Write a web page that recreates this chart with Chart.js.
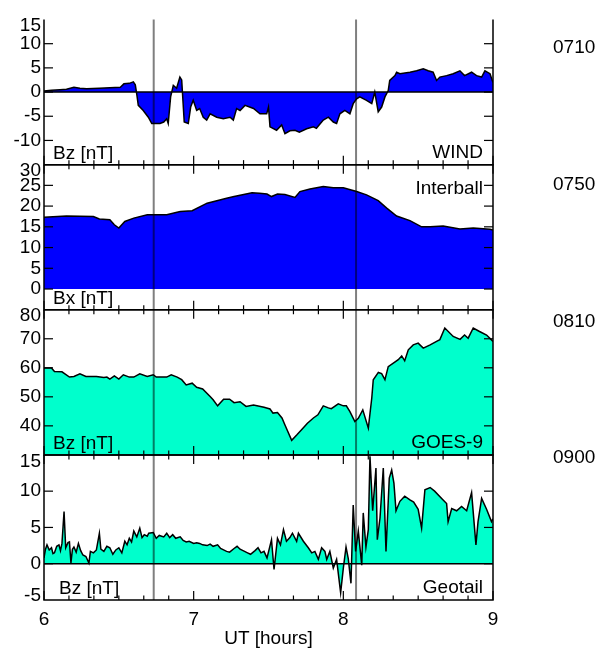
<!doctype html>
<html>
<head>
<meta charset="utf-8">
<title>Bz / Bx, WIND - Interball - GOES-9 - Geotail</title>
<script src="https://cdn.jsdelivr.net/npm/chart.js@4.4.1/dist/chart.umd.min.js"></script>
<style>
  html, body { margin: 0; padding: 0; background: #fff; }
  #wrap { position: relative; width: 597px; height: 648px; }
</style>
</head>
<body>
<div id="wrap"><canvas id="chart" width="597" height="648"></canvas></div>
<script>
// WIND Bz [nT]
var windT = [6.00, 6.05, 6.107, 6.15, 6.20, 6.24, 6.285, 6.37, 6.44, 6.51, 6.534, 6.57, 6.597, 6.61, 6.62, 6.63,
  6.663, 6.697, 6.72, 6.775, 6.80, 6.82, 6.83, 6.846, 6.864, 6.886, 6.908, 6.92, 6.937, 6.964, 6.98, 6.997,
  7.02, 7.04, 7.064, 7.087, 7.11, 7.154, 7.198, 7.243, 7.265, 7.287, 7.31, 7.343, 7.40, 7.443, 7.488, 7.50,
  7.51, 7.554, 7.588, 7.61, 7.643, 7.677, 7.706, 7.755, 7.80, 7.82, 7.866, 7.90, 7.933, 7.955, 7.977, 8.01,
  8.044, 8.066, 8.089, 8.11, 8.155, 8.19, 8.21, 8.233, 8.256, 8.278, 8.30, 8.31, 8.345, 8.356, 8.378, 8.445,
  8.49, 8.534, 8.567, 8.60, 8.623, 8.645, 8.69, 8.734, 8.779, 8.81, 8.857, 8.89, 8.924, 8.946, 8.98, 8.995, 9.00];
var windBz = [0.2, 0.4, 0.5, 0.6, 1.0, 0.8, 0.7, 0.8, 0.9, 1.0, 1.7, 1.8, 2.1, 1.5, -0.5, -2.75,
  -3.8, -5.2, -6.5, -6.5, -6.2, -5.5, -6.5, -1.0, 1.4, 0.8, 3.1, 2.5, -6.2, -6.5, -3.1, -1.7,
  -3.8, -3.4, -5.2, -5.8, -4.5, -5.2, -5.5, -5.2, -5.8, -3.4, -3.8, -2.75, -3.4, -4.5, -4.5, -3.1,
  -7.2, -7.9, -6.8, -8.6, -8.0, -7.9, -8.3, -7.6, -7.2, -7.5, -5.8, -5.2, -6.2, -6.5, -4.5, -3.8,
  -4.5, -2.4, -1.4, -1.0, -1.7, -2.4, 0.0, -4.1, -3.1, -1.0, 0.3, 2.4, 3.4, 4.1, 3.8, 4.1,
  4.4, 4.8, 4.4, 4.1, 2.4, 3.1, 3.4, 3.8, 4.4, 3.4, 4.1, 3.4, 3.1, 4.4, 3.8, 2.4, 2.0];

// Interball Bx [nT]
var intT = [6.00, 6.15, 6.33, 6.37, 6.44, 6.47, 6.50, 6.54, 6.60, 6.69, 6.82, 6.91, 6.99, 7.09, 7.22, 7.27,
  7.39, 7.44, 7.49, 7.52, 7.56, 7.61, 7.677, 7.71, 7.777, 7.866, 7.933, 8.00, 8.089, 8.155, 8.233, 8.29,
  8.356, 8.445, 8.523, 8.58, 8.667, 8.779, 8.868, 8.98, 9.00];
var intBx = [17.3, 17.6, 17.5, 16.9, 16.7, 15.5, 14.7, 16.3, 17.1, 17.9, 17.9, 18.7, 18.9, 20.7, 21.9, 22.3,
  23.2, 23.1, 22.9, 22.3, 22.9, 22.8, 22.1, 23.5, 24.1, 24.7, 24.4, 24.4, 23.5, 22.7, 21.3, 19.5,
  17.6, 16.5, 15.0, 15.0, 15.2, 14.5, 14.7, 14.4, 14.2];

// GOES-9 Bz [nT]
var goesT = [6.00, 6.05, 6.07, 6.12, 6.17, 6.20, 6.24, 6.28, 6.35, 6.40, 6.42, 6.44, 6.47, 6.50, 6.53, 6.57,
  6.60, 6.64, 6.69, 6.73, 6.75, 6.82, 6.85, 6.89, 6.92, 6.95, 6.99, 7.02, 7.06, 7.11, 7.13, 7.16,
  7.20, 7.24, 7.27, 7.31, 7.35, 7.40, 7.47, 7.51, 7.53, 7.56, 7.59, 7.61, 7.655, 7.69, 7.73, 7.76,
  7.80, 7.83, 7.866, 7.90, 7.92, 7.966, 8.00, 8.02, 8.044, 8.077, 8.10, 8.13, 8.167, 8.19, 8.20, 8.234,
  8.256, 8.278, 8.30, 8.334, 8.367, 8.39, 8.41, 8.434, 8.467, 8.50, 8.534, 8.58, 8.623, 8.645, 8.678, 8.734,
  8.78, 8.81, 8.834, 8.868, 8.91, 8.957, 9.00];
var goesBz = [59.9, 59.9, 58.7, 58.6, 56.8, 57.0, 57.9, 57.0, 57.0, 56.7, 56.8, 56.1, 57.2, 56.1, 57.6, 56.8,
  56.8, 57.9, 57.0, 57.6, 56.8, 56.8, 57.6, 56.8, 55.9, 54.1, 54.7, 53.3, 52.7, 50.1, 49.0, 46.9,
  49.2, 49.2, 48.0, 48.3, 46.7, 47.2, 46.4, 45.8, 44.4, 44.6, 42.7, 40.3, 35.0, 36.9, 39.2, 40.9,
  42.7, 43.8, 46.9, 46.2, 45.9, 47.6, 46.9, 46.9, 44.9, 41.5, 42.6, 45.5, 39.2, 49.6, 55.9, 58.4,
  58.0, 55.9, 60.4, 61.6, 62.8, 64.1, 62.4, 66.2, 67.9, 68.5, 66.8, 67.9, 69.1, 69.7, 73.7, 70.8,
  69.8, 71.3, 70.2, 73.7, 72.5, 71.3, 69.1];

// Geotail Bz [nT]
var geoT = [6.000, 6.010, 6.020, 6.035, 6.050, 6.060, 6.070, 6.085, 6.100, 6.110, 6.120, 6.134, 6.145, 6.160, 6.170, 6.180,
  6.190, 6.200, 6.215, 6.230, 6.245, 6.260, 6.280, 6.300, 6.310, 6.330, 6.350, 6.370, 6.380, 6.400, 6.420, 6.440,
  6.460, 6.480, 6.500, 6.520, 6.540, 6.555, 6.570, 6.585, 6.600, 6.620, 6.640, 6.655, 6.670, 6.690, 6.700, 6.730,
  6.750, 6.770, 6.800, 6.820, 6.840, 6.860, 6.880, 6.910, 6.930, 6.950, 6.970, 7.000, 7.020, 7.040, 7.060, 7.090,
  7.110, 7.130, 7.160, 7.180, 7.200, 7.220, 7.240, 7.270, 7.290, 7.310, 7.330, 7.360, 7.380, 7.410, 7.430, 7.450,
  7.470, 7.490, 7.520, 7.537, 7.560, 7.580, 7.600, 7.620, 7.643, 7.660, 7.688, 7.700, 7.733, 7.766, 7.789, 7.810,
  7.833, 7.855, 7.877, 7.889, 7.910, 7.933, 7.955, 7.982, 8.000, 8.018, 8.033, 8.051, 8.066, 8.082, 8.100, 8.123,
  8.133, 8.151, 8.167, 8.178, 8.196, 8.218, 8.227, 8.245, 8.267, 8.285, 8.307, 8.323, 8.338, 8.352, 8.378, 8.410,
  8.445, 8.470, 8.500, 8.523, 8.545, 8.580, 8.610, 8.657, 8.690, 8.700, 8.724, 8.757, 8.790, 8.824, 8.857, 8.886,
  8.900, 8.924, 8.957, 8.990, 9.000];
var geoBz = [0.8, 2.0, 2.6, 1.9, 2.2, 1.4, 1.5, 2.4, 2.6, 1.8, 2.8, 7.2, 2.2, 2.9, 3.0, 0.1,
  2.0, 2.3, 1.6, 2.8, 1.8, 1.2, 1.0, 0.1, 1.7, 1.5, 1.9, 4.2, 2.0, 1.7, 2.4, 2.2,
  1.3, 1.9, 2.2, 1.5, 3.1, 2.6, 3.5, 3.0, 4.5, 3.7, 4.9, 3.6, 4.0, 3.8, 4.2, 4.3,
  3.5, 3.9, 3.7, 4.2, 3.6, 4.0, 3.5, 3.7, 3.2, 3.0, 3.1, 2.8, 2.9, 2.8, 2.6, 2.5,
  2.7, 2.4, 2.6, 2.1, 1.9, 1.7, 1.6, 2.1, 2.4, 2.0, 1.8, 1.5, 1.3, 1.8, 2.2, 1.5,
  1.7, 0.8, 3.3, -0.8, 3.5, 2.6, 4.7, 3.1, 3.6, 4.2, 3.1, 4.2, 3.1, 2.2, 1.5, 1.7,
  0.6, 2.2, 1.7, 0.6, 1.7, -0.6, 0.6, -4.0, -0.6, 2.3, 0.7, -2.7, 8.1, 1.7, 4.5, -0.2,
  7.0, 2.3, 4.7, 14.8, 7.3, 13.2, 3.3, 6.3, 13.2, 1.7, 11.8, 12.9, 11.1, 7.3, 8.6, 9.3,
  8.8, 8.5, 7.5, 4.9, 10.2, 10.5, 10.0, 9.0, 8.3, 5.8, 7.6, 7.3, 7.9, 7.3, 9.8, 2.6,
  5.8, 9.0, 7.5, 5.8, 6.2];

// y tick labels per panel (bottom tick of stacked panels is left unlabeled)
var windTicks = [15, 10, 5, 0, -5, -10];
var intTicks = [30, 25, 20, 15, 10, 5, 0];
var goesTicks = [80, 70, 60, 50, 40];
var geoTicks = [15, 10, 5, 0, -5];

var markTimes = [6.733, 8.085];
var timeTags = ['0710', '0750', '0810', '0900'];

var FONT = '"Liberation Sans", Arial, Helvetica, sans-serif';
var BLUE = '#0000ff';
var TEAL = '#00ffcc';

function pts(t, v) {
  return t.map(function (x, i) { return { x: x, y: v[i] }; });
}

// panel descriptions, top to bottom
var panels = [
  { id: 'y1', min: -15, max: 15, step: 5, labels: windTicks, zero: true, top: false,
    left: 'Bz [nT]', leftX: 53, right: 'WIND', rightAtTop: false },
  { id: 'y2', min: -5, max: 30, step: 5, labels: intTicks, zero: false, top: true,
    left: 'Bx [nT]', leftX: 53, right: 'Interball', rightAtTop: true },
  { id: 'y3', min: 30, max: 80, step: 10, labels: goesTicks, zero: false, top: true,
    left: 'Bz [nT]', leftX: 53, right: 'GOES-9', rightAtTop: false },
  { id: 'y4', min: -5, max: 15, step: 5, labels: geoTicks, zero: true, top: true,
    left: 'Bz [nT]', leftX: 59, right: 'Geotail', rightAtTop: false }
];

function yScale(p) {
  return {
    type: 'linear', position: 'left', stack: 'panels', stackWeight: 1,
    min: p.min, max: p.max,
    ticks: { display: false, stepSize: p.step },
    grid: { display: false, drawTicks: false },
    border: { display: false },
    afterFit: function (s) { s.width = 44; }
  };
}

var scales = {
  x: {
    type: 'linear', position: 'bottom', min: 6, max: 9,
    ticks: { stepSize: 1, padding: 8, color: '#000', font: { family: FONT, size: 19 } },
    grid: { display: false, drawTicks: false },
    border: { display: false },
    title: { display: true, text: 'UT [hours]', color: '#000', padding: 0,
             font: { family: FONT, size: 19, lineHeight: 1.0 } },
    afterFit: function (s) { s.height = 48; }
  }
};
// stacked left axes are laid out last-defined on top
for (var k = panels.length - 1; k >= 0; k--) {
  scales[panels[k].id] = yScale(panels[k]);
}

function series(data, yid, fillMode, color) {
  return {
    data: data, yAxisID: yid, xAxisID: 'x',
    borderColor: '#000', borderWidth: 1.5, backgroundColor: color,
    fill: fillMode, pointRadius: 0, tension: 0
  };
}

var frame = {
  id: 'frame',
  afterDatasetsDraw: function (chart) {
    var ctx = chart.ctx, area = chart.chartArea, x = chart.scales.x;
    ctx.save();
    ctx.strokeStyle = '#000';
    ctx.fillStyle = '#000';
    ctx.lineWidth = 1.5;

    panels.forEach(function (p) {
      var ys = chart.scales[p.id];
      var top = ys.top, bot = ys.bottom;

      if (p.zero) {
        var z = ys.getPixelForValue(0);
        ctx.beginPath(); ctx.moveTo(area.left, z); ctx.lineTo(area.right, z); ctx.stroke();
      }

      // box
      ctx.beginPath();
      ctx.moveTo(area.left, top); ctx.lineTo(area.left, bot);
      ctx.lineTo(area.right, bot); ctx.lineTo(area.right, top);
      if (p.top) { ctx.lineTo(area.left, top); }
      ctx.stroke();

      // inward time ticks, 10 min minor, 1 h major
      ctx.lineWidth = 1.2;
      for (var m = 0; m <= 18; m++) {
        var px = x.getPixelForValue(6 + m / 6);
        var len = (m % 6 === 0) ? 9 : 4.5;
        ctx.beginPath(); ctx.moveTo(px, bot); ctx.lineTo(px, bot - len); ctx.stroke();
        if (p.top) { ctx.beginPath(); ctx.moveTo(px, top); ctx.lineTo(px, top + len); ctx.stroke(); }
      }

      // value ticks and labels
      ctx.font = '19px ' + FONT;
      ctx.textAlign = 'right';
      ctx.textBaseline = 'middle';
      ys.ticks.forEach(function (t) {
        var py = ys.getPixelForValue(t.value);
        if (t.value > p.min && t.value < p.max) {
          ctx.beginPath(); ctx.moveTo(area.left, py); ctx.lineTo(area.left + 9, py); ctx.stroke();
          ctx.beginPath(); ctx.moveTo(area.right, py); ctx.lineTo(area.right - 9, py); ctx.stroke();
        }
        if (p.labels.indexOf(t.value) >= 0) {
          var cy = Math.min(Math.max(py, top + 6.5), bot - 4);
          ctx.fillText(String(t.value), area.left - 3, cy);
        }
      });
      ctx.lineWidth = 1.5;

      // panel names
      ctx.textBaseline = 'alphabetic';
      ctx.textAlign = 'left';
      ctx.fillText(p.left, p.leftX, bot - 6);
      ctx.textAlign = 'right';
      ctx.fillText(p.right, area.right - 10, p.rightAtTop ? top + 29.5 : bot - 7);
    });

    // reference times across all panels
    ctx.strokeStyle = 'rgba(0,0,0,0.5)';
    ctx.lineWidth = 2;
    markTimes.forEach(function (t) {
      var px = x.getPixelForValue(t);
      ctx.beginPath(); ctx.moveTo(px, area.top); ctx.lineTo(px, area.bottom); ctx.stroke();
    });

    // time tags at the right
    ctx.fillStyle = '#000';
    ctx.textAlign = 'left';
    ctx.textBaseline = 'alphabetic';
    var tagY = [53.3, 190, 326.7, 463.3];
    timeTags.forEach(function (s, i) { ctx.fillText(s, 553, tagY[i]); });
    ctx.restore();
  }
};

new Chart(document.getElementById('chart').getContext('2d'), {
  type: 'line',
  data: {
    datasets: [
      series(pts(windT, windBz), 'y1', 'origin', BLUE),
      series(pts(intT, intBx), 'y2', 'origin', BLUE),
      series(pts(goesT, goesBz), 'y3', 'start', TEAL),
      series(pts(geoT, geoBz), 'y4', 'origin', TEAL)
    ]
  },
  options: {
    responsive: false,
    animation: false,
    events: [],
    layout: { padding: { top: 19.5, right: 104, bottom: 0, left: 0 } },
    plugins: { legend: { display: false }, tooltip: { enabled: false } },
    scales: scales
  },
  plugins: [frame]
});
</script>
</body>
</html>
